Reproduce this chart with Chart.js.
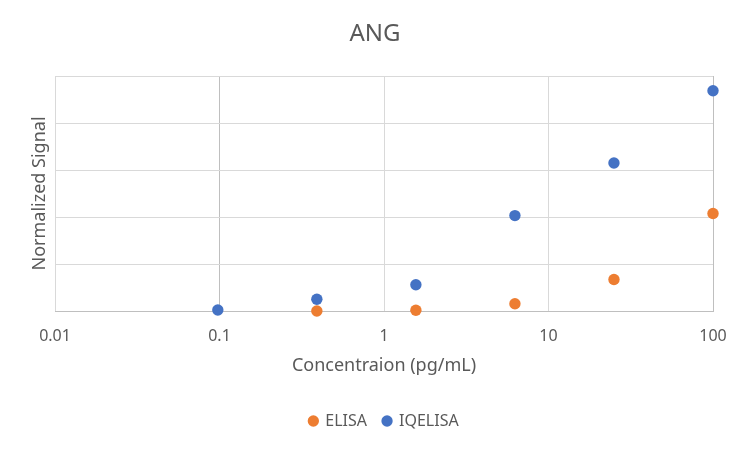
<!DOCTYPE html>
<html>
<head>
<meta charset="utf-8">
<script src="https://cdn.jsdelivr.net/npm/chart.js@4.4.0/dist/chart.umd.min.js"></script>
<style>
  html, body { margin: 0; padding: 0; background: #fff; }
</style>
</head>
<body>
<canvas id="myChart" width="750" height="450"></canvas>
<script>
// concentrations of the 4-fold dilution series (pg/mL)
const concentrations = [100, 25, 6.25, 1.5625, 0.390625, 0.09765625];
const elisaSignal = [0.415, 0.134, 0.031, 0.003, 0.0, null];
const iqelisaSignal = [0.937, 0.63, 0.406, 0.112, 0.05, 0.004];
const xTicks = [0.01, 0.1, 1, 10, 100];
const yTicks = [0, 0.2, 0.4, 0.6, 0.8, 1];

const textColor = "#595959";
Chart.defaults.font.family = "'Noto Sans', 'Open Sans', sans-serif";
Chart.defaults.color = textColor;

function toPoints(values) {
  return concentrations
    .map((x, i) => ({ x: x, y: values[i] }))
    .filter(p => p.y !== null);
}

const ctx = document.getElementById("myChart").getContext("2d");

new Chart(ctx, {
  type: "scatter",
  data: {
    datasets: [{
      label: "ELISA",
      data: toPoints(elisaSignal),
      backgroundColor: "#ED7D31",
      borderColor: "#ED7D31",
      borderWidth: 0,
      pointRadius: 5.7,
      pointHoverRadius: 5.7,
      pointBorderWidth: 0,
      clip: false
    }, {
      label: "IQELISA",
      data: toPoints(iqelisaSignal),
      backgroundColor: "#4472C4",
      borderColor: "#4472C4",
      borderWidth: 0,
      pointRadius: 5.7,
      pointHoverRadius: 5.7,
      pointBorderWidth: 0,
      clip: false
    }]
  },
  options: {
    responsive: false,
    animation: false,
    layout: { padding: { left: 0, right: 0, top: 0, bottom: 11 } },
    plugins: {
      tooltip: { enabled: false },
      title: {
        display: true,
        text: "ANG",
        color: textColor,
        font: { size: 24, weight: "normal" },
        padding: { top: 20, bottom: 27.2 }
      },
      legend: {
        position: "bottom",
        fullSize: false,
        labels: {
          usePointStyle: true,
          boxWidth: 8,
          boxHeight: 8,
          padding: 16,
          color: textColor,
          font: { size: 16 }
        }
      }
    },
    scales: {
      x: {
        type: "logarithmic",
        min: 0.01,
        max: 100,
        afterBuildTicks: scale => {
          scale.ticks = xTicks.map(v => ({ value: v }));
        },
        afterFit: scale => { scale.height = 86; },
        grid: {
          drawTicks: false,
          lineWidth: 1,
          color: c => (c.tick && (c.tick.value === 0.1 || c.tick.value === 100)) ? "#bfbfbf" : "#d9d9d9"
        },
        border: { display: true, color: "#bfbfbf", width: 1 },
        ticks: {
          autoSkip: false,
          maxRotation: 0,
          padding: 16,
          color: textColor,
          font: { size: 16 },
          callback: value => String(value)
        },
        title: {
          display: true,
          text: "Concentraion (pg/mL)",
          color: textColor,
          font: { size: 18 },
          padding: { top: 0, bottom: 20.2 }
        }
      },
      y: {
        min: 0,
        max: 1,
        afterBuildTicks: scale => {
          scale.ticks = yTicks.map(v => ({ value: v }));
        },
        afterFit: scale => { scale.width = 55; },
        grid: {
          drawTicks: false,
          lineWidth: 1,
          color: c => (c.tick && c.tick.value === 0) ? "#bfbfbf" : "#d9d9d9"
        },
        border: { display: false },
        ticks: { display: false },
        title: {
          display: true,
          text: "Normalized Signal",
          color: textColor,
          font: { size: 18 },
          padding: { top: 29.2, bottom: 0 }
        }
      },
      yRight: {
        position: "right",
        min: 0,
        max: 1,
        afterFit: scale => { scale.width = 37; },
        grid: { display: false },
        border: { display: false },
        ticks: { display: false }
      }
    }
  }
});
</script>
</body>
</html>
